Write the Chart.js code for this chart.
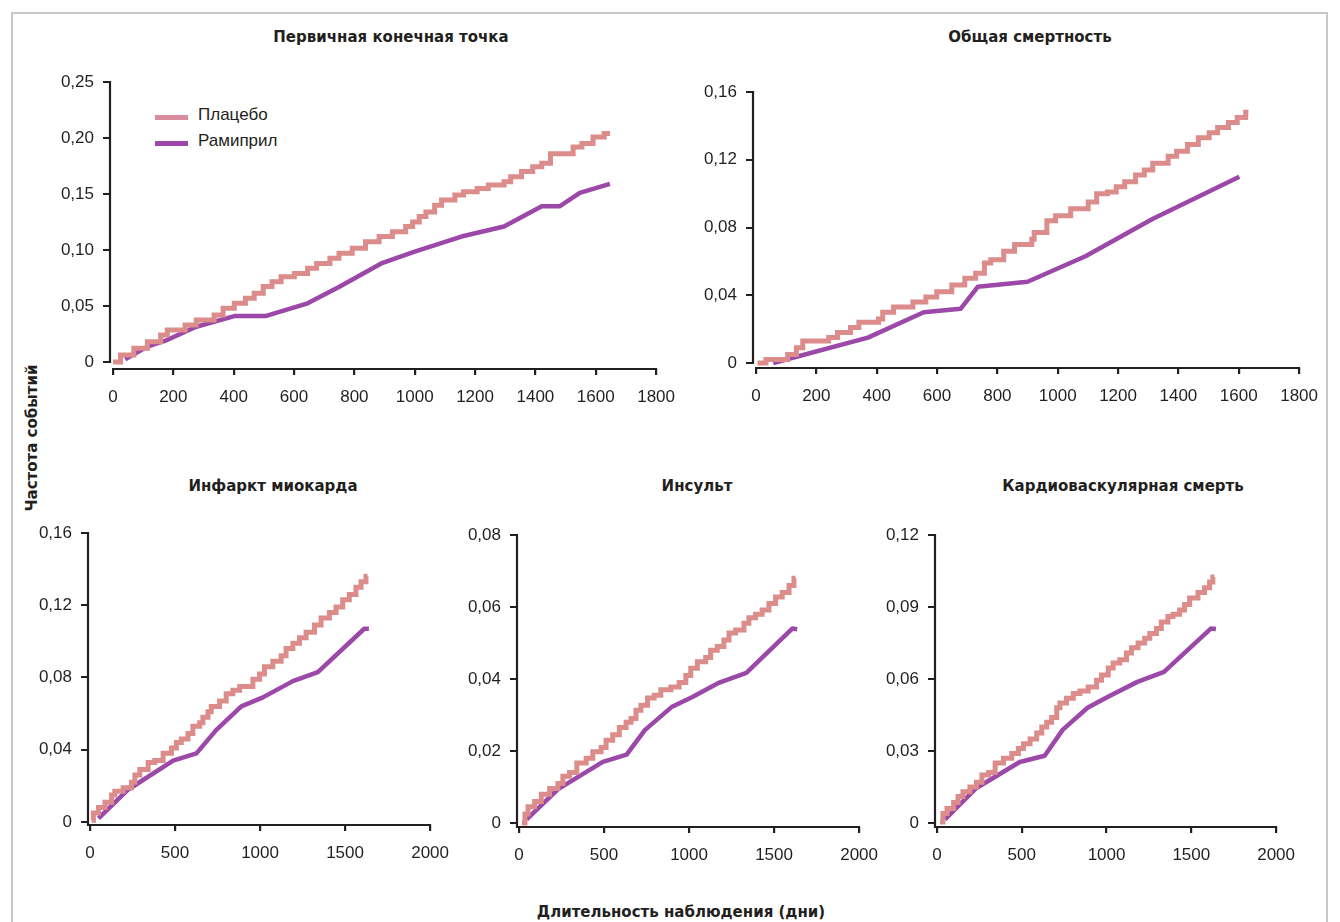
<!DOCTYPE html>
<html><head><meta charset="utf-8">
<script src="https://cdn.jsdelivr.net/npm/chart.js@4.4.1/dist/chart.umd.min.js"></script>
<style>
html,body{margin:0;padding:0;background:#fff;}
body{width:1340px;height:922px;position:relative;overflow:hidden;font-family:"Liberation Sans",sans-serif;color:#231f20;}
#frame{position:absolute;left:11px;top:12px;width:1317px;height:930px;border:2px solid #c8c8c8;border-bottom:none;box-sizing:border-box;}
canvas{position:absolute;}
.t{position:absolute;transform:translate(-50%,-50%);font-family:"DejaVu Sans",sans-serif;font-weight:bold;font-size:15px;white-space:nowrap;line-height:1;color:#231f20;}
.lg{position:absolute;height:5px;width:33px;}
.lt{position:absolute;transform:translateY(-50%);font-size:17px;line-height:1;white-space:nowrap;color:#231f20;}
</style></head>
<body>
<div id="frame"></div>

<div class="t" style="left:391px;top:37px">Первичная конечная точка</div>
<div class="t" style="left:1030px;top:37px">Общая смертность</div>
<div class="t" style="left:273px;top:486px">Инфаркт миокарда</div>
<div class="t" style="left:697px;top:486px">Инсульт</div>
<div class="t" style="left:1123px;top:486px">Кардиоваскулярная смерть</div>
<div class="t" style="left:681px;top:912px">Длительность наблюдения (дни)</div>
<div class="t" style="left:32px;top:438px;transform:translate(-50%,-50%) rotate(-90deg)">Частота событий</div>

<div class="lg" style="left:155px;top:115px;background:#d98c9e"></div>
<div class="lt" style="left:198px;top:114px">Плацебо</div>
<div class="lg" style="left:155px;top:141px;background:#9b48a8"></div>
<div class="lt" style="left:198px;top:140px">Рамиприл</div>

<canvas id="c1"></canvas><canvas id="c2"></canvas><canvas id="c3"></canvas><canvas id="c4"></canvas><canvas id="c5"></canvas>

<script>
// ---------- Tick values & labels ----------
const xTicksTop = [0, 200, 400, 600, 800, 1000, 1200, 1400, 1600, 1800];
const xTicksBottom = [0, 500, 1000, 1500, 2000];
const yTicks1 = [0, 0.05, 0.10, 0.15, 0.20, 0.25];
const yLabels1 = ['0', '0,05', '0,10', '0,15', '0,20', '0,25'];
const yTicks2 = [0, 0.04, 0.08, 0.12, 0.16];
const yLabels2 = ['0', '0,04', '0,08', '0,12', '0,16'];
const yTicks3 = [0, 0.04, 0.08, 0.12, 0.16];
const yLabels3 = ['0', '0,04', '0,08', '0,12', '0,16'];
const yTicks4 = [0, 0.02, 0.04, 0.06, 0.08];
const yLabels4 = ['0', '0,02', '0,04', '0,06', '0,08'];
const yTicks5 = [0, 0.03, 0.06, 0.09, 0.12];
const yLabels5 = ['0', '0,03', '0,06', '0,09', '0,12'];

const seriesNames = ['Плацебо', 'Рамиприл'];

// ---------- Panel 1: Первичная конечная точка ----------
const p1PlaceboDays = [0, 25, 69, 114, 158, 180, 239, 276, 335, 365, 402, 439, 468, 498, 527, 557, 601, 645, 675, 719, 749, 793, 837, 882, 926, 970, 993, 1015, 1037, 1066, 1089, 1133, 1162, 1207, 1244, 1296, 1318, 1354, 1391, 1421, 1450, 1525, 1554, 1591, 1628, 1647];
const p1PlaceboRate = [0, 0.0063, 0.0122, 0.018, 0.024, 0.0286, 0.033, 0.0375, 0.042, 0.048, 0.0524, 0.057, 0.0613, 0.0673, 0.0717, 0.0762, 0.079, 0.0836, 0.088, 0.0926, 0.097, 0.1015, 0.1074, 0.112, 0.1164, 0.121, 0.125, 0.130, 0.134, 0.140, 0.1446, 0.149, 0.152, 0.155, 0.158, 0.161, 0.1655, 0.170, 0.1744, 0.1774, 0.186, 0.192, 0.195, 0.201, 0.204, 0.204];
const p1RamiDays = [40, 114, 179, 276, 402, 505, 645, 749, 889, 1000, 1155, 1296, 1421, 1480, 1547, 1647];
const p1RamiRate = [0.0024, 0.0137, 0.0196, 0.0315, 0.041, 0.041, 0.0524, 0.067, 0.088, 0.0985, 0.112, 0.121, 0.139, 0.139, 0.151, 0.159];

// ---------- Panel 2: Общая смертность ----------
const p2PlaceboDays = [5, 33, 105, 134, 155, 241, 270, 313, 341, 406, 420, 456, 520, 563, 599, 649, 692, 728, 757, 778, 821, 857, 914, 922, 964, 993, 1043, 1101, 1129, 1165, 1194, 1222, 1258, 1287, 1315, 1366, 1394, 1430, 1466, 1502, 1530, 1566, 1595, 1623, 1632];
const p2PlaceboRate = [0, 0.002, 0.005, 0.009, 0.013, 0.015, 0.018, 0.021, 0.024, 0.026, 0.030, 0.033, 0.036, 0.039, 0.042, 0.046, 0.050, 0.053, 0.059, 0.061, 0.066, 0.070, 0.073, 0.077, 0.084, 0.087, 0.091, 0.095, 0.100, 0.101, 0.104, 0.107, 0.111, 0.114, 0.118, 0.122, 0.125, 0.129, 0.133, 0.136, 0.139, 0.142, 0.145, 0.148, 0.148];
const p2RamiDays = [57, 371, 556, 678, 735, 900, 1092, 1314, 1602];
const p2RamiRate = [0, 0.015, 0.030, 0.032, 0.045, 0.048, 0.063, 0.085, 0.110];

// ---------- Panel 3: Инфаркт миокарда ----------
const p3PlaceboDays = [10, 20, 50, 88, 127, 146, 195, 244, 264, 293, 342, 381, 430, 479, 508, 537, 576, 605, 645, 664, 694, 713, 762, 801, 840, 880, 958, 997, 1026, 1075, 1124, 1153, 1193, 1232, 1271, 1320, 1359, 1408, 1447, 1486, 1525, 1564, 1594, 1623, 1632];
const p3PlaceboRate = [0.001, 0.005, 0.008, 0.011, 0.015, 0.017, 0.019, 0.022, 0.026, 0.029, 0.033, 0.034, 0.038, 0.041, 0.044, 0.046, 0.049, 0.053, 0.055, 0.058, 0.061, 0.064, 0.067, 0.071, 0.073, 0.075, 0.079, 0.082, 0.086, 0.089, 0.092, 0.096, 0.099, 0.102, 0.105, 0.109, 0.113, 0.116, 0.119, 0.123, 0.126, 0.130, 0.133, 0.136, 0.136];
const p3RamiDays = [50, 225, 489, 626, 743, 890, 1017, 1193, 1340, 1613, 1640];
const p3RamiRate = [0.002, 0.018, 0.034, 0.038, 0.051, 0.064, 0.069, 0.078, 0.083, 0.107, 0.107];

// ---------- Panel 4: Инсульт ----------
const p4PlaceboDays = [17, 35, 53, 92, 131, 180, 229, 258, 297, 340, 395, 434, 483, 512, 551, 590, 630, 659, 688, 717, 756, 795, 834, 893, 942, 981, 1010, 1049, 1098, 1127, 1166, 1205, 1235, 1274, 1323, 1352, 1391, 1430, 1470, 1509, 1548, 1588, 1617, 1626];
const p4PlaceboRate = [0, 0.0025, 0.0045, 0.006, 0.008, 0.0096, 0.011, 0.013, 0.014, 0.0167, 0.018, 0.0198, 0.021, 0.023, 0.0245, 0.0265, 0.028, 0.029, 0.0313, 0.0327, 0.0347, 0.0355, 0.037, 0.0378, 0.039, 0.041, 0.043, 0.0448, 0.046, 0.048, 0.049, 0.0508, 0.0528, 0.0536, 0.0555, 0.057, 0.058, 0.0592, 0.061, 0.0628, 0.064, 0.066, 0.068, 0.068];
const p4RamiDays = [45, 230, 493, 633, 740, 897, 1020, 1178, 1337, 1607, 1636];
const p4RamiRate = [0.001, 0.0094, 0.017, 0.019, 0.0258, 0.0322, 0.035, 0.039, 0.0417, 0.054, 0.0538];

// ---------- Panel 5: Кардиоваскулярная смерть ----------
const p5PlaceboDays = [18, 35, 59, 98, 124, 153, 194, 233, 265, 304, 343, 392, 441, 480, 510, 549, 588, 618, 647, 676, 706, 725, 764, 804, 843, 892, 941, 970, 1010, 1039, 1078, 1118, 1147, 1186, 1225, 1255, 1294, 1323, 1362, 1392, 1431, 1460, 1490, 1539, 1578, 1608, 1627, 1636];
const p5PlaceboRate = [0.0004, 0.004, 0.006, 0.0085, 0.011, 0.013, 0.015, 0.017, 0.020, 0.021, 0.025, 0.027, 0.029, 0.031, 0.033, 0.035, 0.0375, 0.040, 0.042, 0.044, 0.048, 0.050, 0.052, 0.054, 0.055, 0.0567, 0.0595, 0.0617, 0.0646, 0.0667, 0.068, 0.0708, 0.073, 0.075, 0.077, 0.079, 0.081, 0.0838, 0.086, 0.087, 0.0888, 0.091, 0.0938, 0.096, 0.098, 0.1004, 0.1025, 0.1025];
const p5RamiDays = [47, 233, 488, 635, 741, 888, 1006, 1182, 1339, 1615, 1645];
const p5RamiRate = [0.0015, 0.0146, 0.0254, 0.028, 0.0388, 0.048, 0.0525, 0.0588, 0.063, 0.081, 0.0808];

// ---------- Rendering ----------
const INK = '#231f20';
const PLACEBO_COLOR = '#dd8c8c';
const RAMI_COLOR = '#9b48a8';
const Y_AXIS_W = 60, X_AXIS_H = 50, PAD_T = 20, PAD_R = 30;

const axisLines = {
  id: 'axisLines',
  beforeDatasetsDraw(chart, args, o) {
    const {ctx, chartArea: a, scales: {x, y}} = chart;
    ctx.save();
    ctx.strokeStyle = INK; ctx.lineWidth = 2.2; ctx.lineCap = 'butt';
    const yTop = y.getPixelForValue(o.yTop);
    const yBot = o.join ? a.bottom : y.getPixelForValue(0);
    ctx.beginPath(); ctx.moveTo(a.left, yTop - 1); ctx.lineTo(a.left, yBot + 1); ctx.stroke();
    const x0 = o.join ? a.left : x.getPixelForValue(0);
    const x1 = x.getPixelForValue(o.xEnd);
    ctx.beginPath(); ctx.moveTo(x0 - 1, a.bottom); ctx.lineTo(x1 + 1, a.bottom); ctx.stroke();
    ctx.restore();
  }
};

function pts(xs, ys) { return xs.map((d, i) => ({x: d, y: ys[i]})); }

function panel(id, area, xTicks, yTicks, yLabels, pDays, pRate, rDays, rRate, gapX, gapY, join) {
  const cv = document.getElementById(id);
  const left = area.L - Y_AXIS_W, top = area.T - PAD_T;
  const w = area.R + PAD_R - left, h = area.B + X_AXIS_H - top;
  cv.width = w; cv.height = h;
  cv.style.left = left + 'px'; cv.style.top = top + 'px';
  cv.style.width = w + 'px'; cv.style.height = h + 'px';
  const xMax = xTicks[xTicks.length - 1];
  const yMax = yTicks[yTicks.length - 1];
  const xMin = -gapX * xMax / (area.R - area.L - gapX);
  const yMin = -gapY * yMax / (area.B - area.T - gapY);
  const tickFont = {family: '"Liberation Sans", sans-serif', size: 17};
  new Chart(cv, {
    type: 'line',
    data: {
      datasets: [
        {label: seriesNames[0], data: pts(pDays, pRate), stepped: true, borderColor: PLACEBO_COLOR,
         borderWidth: 5, pointRadius: 0, borderJoinStyle: 'miter', borderCapStyle: 'butt', fill: false},
        {label: seriesNames[1], data: pts(rDays, rRate), borderColor: RAMI_COLOR,
         borderWidth: 4.5, pointRadius: 0, tension: 0, borderJoinStyle: 'round', borderCapStyle: 'butt', fill: false}
      ]
    },
    options: {
      responsive: false, animation: false, devicePixelRatio: 1,
      layout: {padding: {top: PAD_T, right: PAD_R, left: 0, bottom: 0}},
      plugins: {legend: {display: false}, tooltip: {enabled: false}, title: {display: false},
                axisLines: {yTop: yMax, xEnd: xMax, join: join}},
      scales: {
        x: {
          type: 'linear', min: xMin, max: xMax,
          afterBuildTicks: s => { s.ticks = xTicks.map(v => ({value: v})); },
          afterFit: s => { s.height = X_AXIS_H; },
          border: {display: false},
          grid: {display: true, drawOnChartArea: false, drawTicks: true, tickLength: 6, color: INK, lineWidth: 2.2},
          ticks: {autoSkip: false, maxRotation: 0, minRotation: 0, padding: 12, color: INK, font: tickFont,
                  callback: v => String(v)}
        },
        y: {
          type: 'linear', min: yMin, max: yMax,
          afterBuildTicks: s => { s.ticks = yTicks.map(v => ({value: v})); },
          afterFit: s => { s.width = Y_AXIS_W; },
          border: {display: false},
          grid: {display: true, drawOnChartArea: false, drawTicks: true, tickLength: 7, color: INK, lineWidth: 2},
          ticks: {autoSkip: false, padding: 9, color: INK, font: tickFont,
                  callback: (v, i) => yLabels[i]}
        }
      }
    },
    plugins: [axisLines]
  });
}

panel('c1', {L: 110, R: 657, T: 82, B: 369}, xTicksTop, yTicks1, yLabels1, p1PlaceboDays, p1PlaceboRate, p1RamiDays, p1RamiRate, 3, 7, false);
panel('c2', {L: 753, R: 1300, T: 92, B: 368}, xTicksTop, yTicks2, yLabels2, p2PlaceboDays, p2PlaceboRate, p2RamiDays, p2RamiRate, 3, 5, false);
panel('c3', {L: 88, R: 431, T: 533, B: 825}, xTicksBottom, yTicks3, yLabels3, p3PlaceboDays, p3PlaceboRate, p3RamiDays, p3RamiRate, 2, 3, true);
panel('c4', {L: 517, R: 860, T: 535, B: 827}, xTicksBottom, yTicks4, yLabels4, p4PlaceboDays, p4PlaceboRate, p4RamiDays, p4RamiRate, 2, 4, true);
panel('c5', {L: 935, R: 1277, T: 535, B: 827}, xTicksBottom, yTicks5, yLabels5, p5PlaceboDays, p5PlaceboRate, p5RamiDays, p5RamiRate, 2, 4, true);
</script>
</body></html>
